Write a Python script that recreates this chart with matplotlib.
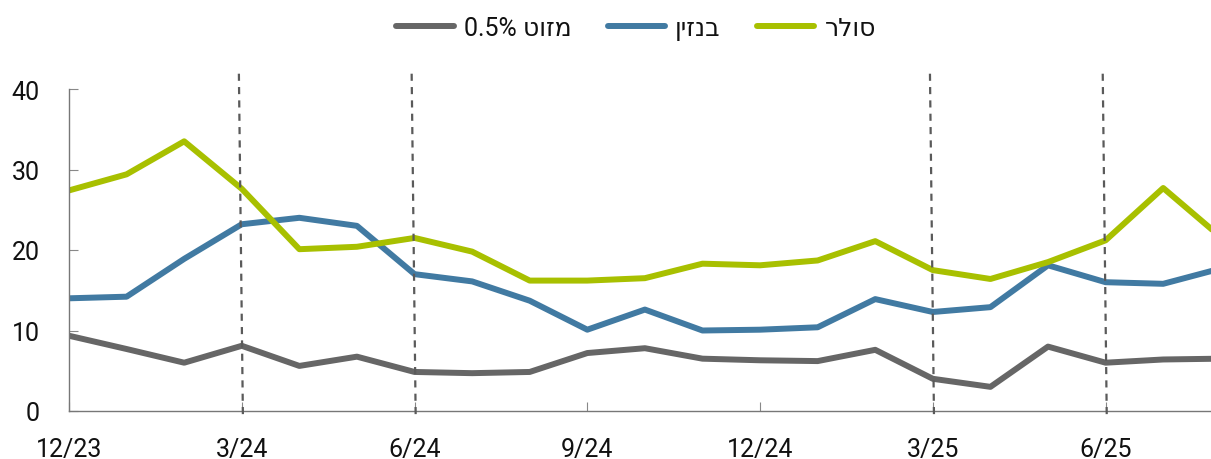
import matplotlib
matplotlib.use("Agg")
import matplotlib.pyplot as plt
import numpy as np

plt.rcParams["font.family"] = ["Roboto", "DejaVu Sans"]

# monthly data, 12/23 .. 8/25
months = ["12/23", "1/24", "2/24", "3/24", "4/24", "5/24", "6/24", "7/24", "8/24",
          "9/24", "10/24", "11/24", "12/24", "1/25", "2/25", "3/25", "4/25", "5/25",
          "6/25", "7/25", "8/25"]
solar = [27.4, 29.4, 33.5, 27.6, 20.1, 20.4, 21.5, 19.8, 16.2, 16.2, 16.5, 18.3,
         18.1, 18.7, 21.1, 17.5, 16.4, 18.5, 21.2, 27.7, 21.6]
benzin = [14.0, 14.2, 18.9, 23.2, 24.0, 23.0, 17.0, 16.1, 13.7, 10.1, 12.6, 10.0,
          10.1, 10.4, 13.9, 12.3, 12.9, 18.1, 16.0, 15.8, 17.7]
mazut = [9.35, 7.7, 6.0, 8.1, 5.6, 6.75, 4.85, 4.7, 4.85, 7.2, 7.8, 6.5,
         6.3, 6.2, 7.6, 4.0, 3.0, 8.0, 6.0, 6.4, 6.5]

tick_idx = [0, 3, 6, 9, 12, 15, 18]
marker_idx = [3, 6, 15, 18]

# hebrew written in visual order (matplotlib has no bidi)
lbl_mazut = "0.5% טוזמ"
lbl_benzin = "ןיזנב"
lbl_solar = "רלוס"

c_gray = "#666666"
c_blue = "#417aa2"
c_olive = "#a8c000"

fig = plt.figure(figsize=(12.11, 4.6), dpi=100)
ax = fig.add_axes([69 / 1211, 48 / 460, 1 - 69 / 1211, 322 / 460])

x = np.arange(len(months))
ax.plot(x, mazut, color=c_gray, lw=4.3, label=lbl_mazut, solid_capstyle="round")
ax.plot(x, benzin, color=c_blue, lw=4.3, label=lbl_benzin, solid_capstyle="round")
ax.plot(x, solar, color=c_olive, lw=4.3, label=lbl_solar, solid_capstyle="round")

for m in marker_idx:
    ax.plot([m - 0.05, m + 0.02], [41.9, -0.8], color="#5a5a5a", lw=1.6,
            dashes=(3.2, 2.8), clip_on=False, zorder=5)

ax.set_xlim(0, 19.83)
ax.set_ylim(0, 40)
ax.set_yticks([0, 10, 20, 30, 40])
ax.set_xticks(tick_idx)
ax.set_xticklabels([months[i] for i in tick_idx])

for s in ["top", "right"]:
    ax.spines[s].set_visible(False)
for s in ["left", "bottom"]:
    ax.spines[s].set_color("#777777")
    ax.spines[s].set_linewidth(1.0)

ax.tick_params(axis="both", direction="in", length=6.5, width=0.8,
               color="#888888", labelsize=18, labelcolor="#111111")
ax.tick_params(axis="y", pad=21)
ax.tick_params(axis="x", pad=19)

handles, labels = ax.get_legend_handles_labels()
leg = fig.legend(handles, labels, loc="center", bbox_to_anchor=(636 / 1211, 1 - 29 / 460),
                 ncol=3, frameon=False, fontsize=18, handlelength=2.3,
                 handletextpad=0.4, columnspacing=1.45, labelcolor="#111111")

plt.savefig("out.png", dpi=100)
